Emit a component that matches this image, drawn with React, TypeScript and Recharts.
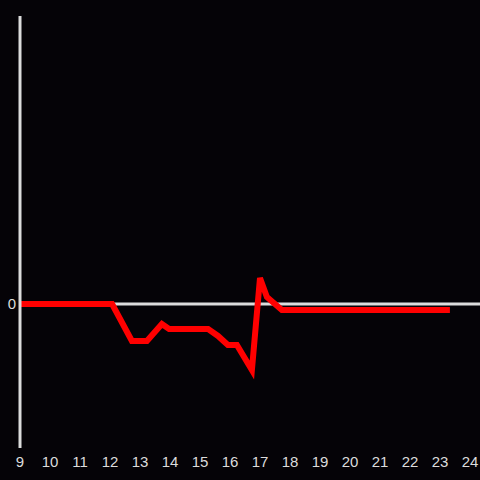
import React from 'react';
import { LineChart, Line, XAxis, YAxis, ReferenceLine } from 'recharts';

// hour of day (decimal) and value
const hours = [9, 12.07, 12.73, 13.23, 13.73, 13.97, 15.27, 15.6, 15.93, 16.23, 16.73, 17.0, 17.23, 17.73, 23.33];
const values = [0, 0, -0.257, -0.257, -0.139, -0.174, -0.174, -0.222, -0.285, -0.285, -0.458, 0.181, 0.049, -0.042, -0.042];
const xTicks = [9, 10, 11, 12, 13, 14, 15, 16, 17, 18, 19, 20, 21, 22, 23, 24];
const yTicks = [0];

const data = hours.map((h, i) => ({ hour: h, value: values[i] }));

const axisColor = '#dcdcdc';

export default function App() {
  return (
    <div style={{ position: 'fixed', left: 0, top: 0, width: 480, height: 480, background: '#050307' }}>
      <LineChart
        width={480}
        height={480}
        data={data}
        margin={{ top: 16, right: 0, left: 0, bottom: 0 }}
        style={{ fontFamily: '"Liberation Sans", Arial, sans-serif' }}
      >
        <XAxis
          dataKey="hour"
          type="number"
          domain={[9, 9 + 460 / 30]}
          ticks={xTicks}
          interval={0}
          axisLine={false}
          tickLine={false}
          height={32}
          tick={{ fill: axisColor, fontSize: 15 }}
        />
        <YAxis
          type="number"
          domain={[-1, 2]}
          ticks={yTicks}
          width={20}
          tickLine={false}
          tickSize={2}
          tickMargin={2}
          axisLine={{ stroke: axisColor, strokeWidth: 3 }}
          tick={{ fill: axisColor, fontSize: 15 }}
        />
        <ReferenceLine y={0} stroke={axisColor} strokeWidth={3} />
        <Line
          type="linear"
          dataKey="value"
          stroke="#ff0000"
          strokeWidth={6}
          dot={false}
          isAnimationActive={false}
        />
      </LineChart>
    </div>
  );
}
